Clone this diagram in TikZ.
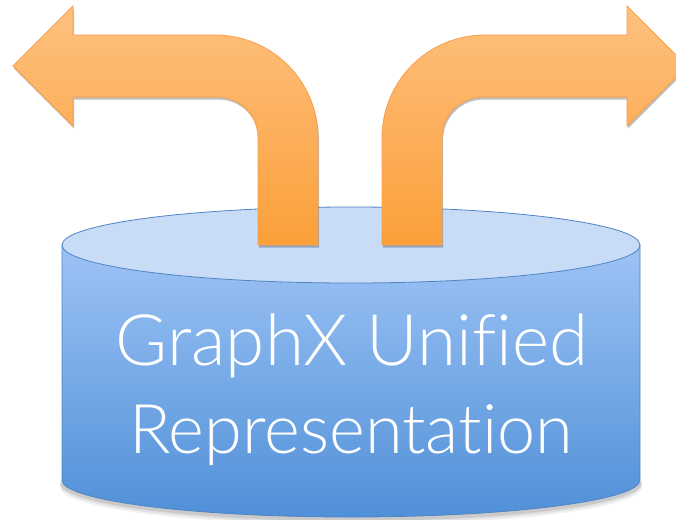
\documentclass[tikz,border=0pt]{standalone}
\usepackage{fontspec}
\newfontfamily\gs{Lato}[UprightFont={* Light}, Ligatures={NoCommon}]
\usetikzlibrary{shadows}
\definecolor{edgeblue}{HTML}{4F84C4}
\definecolor{toplid}{HTML}{C8DCF8}
\definecolor{bodytop}{HTML}{9DC3F5}
\definecolor{bodybot}{HTML}{5090D8}
\definecolor{arrtop}{HTML}{FEC07F}
\definecolor{arrbot}{HTML}{FBA03A}
\definecolor{arredge}{HTML}{F7A04E}
\begin{document}
\begin{tikzpicture}[x=1pt,y=-1pt,
  arrowshape/.style={draw=arredge, line width=0.8pt, top color=arrtop, bottom color=arrbot,
     drop shadow={shadow xshift=1pt, shadow yshift=-2.5pt, opacity=0.25, fill=black}},
  lbl/.style={text=white, inner sep=0pt, anchor=base}]
\useasboundingbox (0,0) rectangle (676,519);
\clip (0,0) rectangle (676,519);
% cylinder shadow
\foreach \o/\a in {6/0.05,4/0.07,2/0.1}{
  \fill[black, opacity=\a] (351,481+\o) ellipse [x radius=291, y radius=38];
}
% cylinder body
\path[draw=edgeblue, line width=0.8pt, top color=bodytop, bottom color=bodybot]
  (62,245) -- (62,480) arc[start angle=180, end angle=0, x radius=289, y radius=37] -- (640,245) -- cycle;
% top lid
\draw[edgeblue, line width=0.8pt, fill=toplid] (351,245) ellipse [x radius=289, y radius=38];
% left arrow
\path[arrowshape] (258,245) -- (258,138) .. controls (258,115) and (240,97) .. (217,97)
  -- (73,97) -- (73,126) -- (13,66) -- (73,6) -- (73,35) -- (215,35)
  .. controls (272,35) and (318,81) .. (318,138) -- (318,245) -- cycle;
% right arrow
\path[arrowshape] (442,245) -- (442,138) .. controls (442,115) and (460,97) .. (483,97)
  -- (627,97) -- (627,126) -- (687,66) -- (627,6) -- (627,35) -- (485,35)
  .. controls (428,35) and (382,81) .. (382,138) -- (382,245) -- cycle;
% text
\node[lbl, font=\gs\fontsize{71}{80}\selectfont] (l1) at (352,365) {GraphX Unified};
\node[lbl, font=\gs\fontsize{68.5}{80}\selectfont] (l2) at (351,453) {Representation};
\end{tikzpicture}
\end{document}
